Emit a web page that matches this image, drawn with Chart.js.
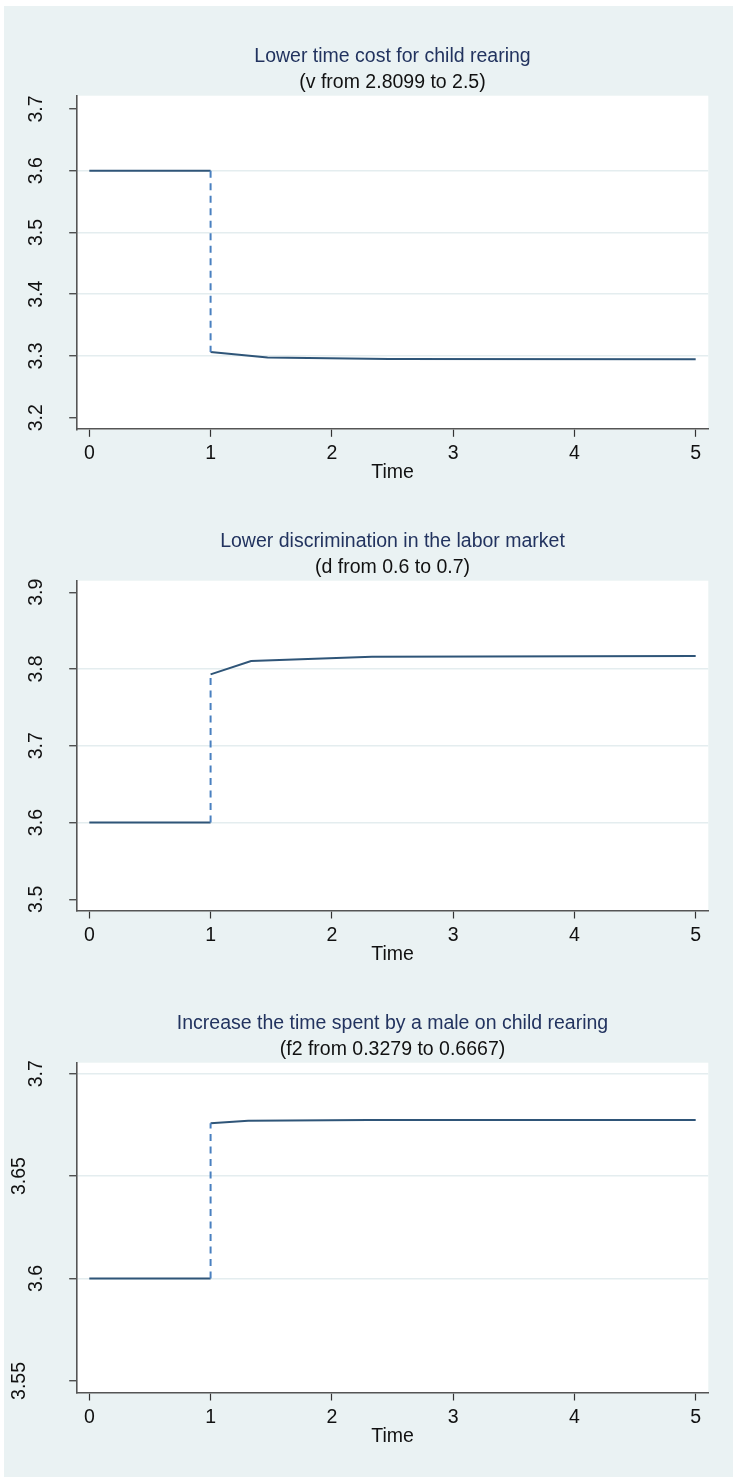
<!DOCTYPE html>
<html><head><meta charset="utf-8">
<script src="https://cdn.jsdelivr.net/npm/chart.js@4.4.1/dist/chart.umd.min.js"></script>
<style>
html,body{margin:0;padding:0;background:#fff;width:733px;height:1477px;overflow:hidden;}
#bg{position:absolute;left:4px;top:6px;width:729px;height:1471px;background:#eaf2f3;}
canvas{position:absolute;left:0;top:0;}
</style></head><body>
<div id="bg"></div>
<canvas id="c1" width="733" height="1477"></canvas>
<canvas id="c2" width="733" height="1477"></canvas>
<canvas id="c3" width="733" height="1477"></canvas>
<script>
// ---------- data ----------
const xTicks = [0, 1, 2, 3, 4, 5];
const xTitle = 'Time';
const timeBefore = [0, 1];

const title1 = 'Lower time cost for child rearing';
const subtitle1 = '(v from 2.8099 to 2.5)';
const yTicks1 = [3.2, 3.3, 3.4, 3.5, 3.6, 3.7];
const yGrid1 = [3.3, 3.4, 3.5, 3.6];
const before1 = [3.6, 3.6];
const timeAfter1 = [1, 1.47, 2.47, 5];
const after1 = [3.3065, 3.2974, 3.2950, 3.2947];

const title2 = 'Lower discrimination in the labor market';
const subtitle2 = '(d from 0.6 to 0.7)';
const yTicks2 = [3.5, 3.6, 3.7, 3.8, 3.9];
const yGrid2 = [3.6, 3.7, 3.8];
const before2 = [3.6, 3.6];
const timeAfter2 = [1, 1.334, 2.33, 5];
const after2 = [3.793, 3.8104, 3.816, 3.817];

const title3 = 'Increase the time spent by a male on child rearing';
const subtitle3 = '(f2 from 0.3279 to 0.6667)';
const yTicks3 = [3.55, 3.6, 3.65, 3.7];
const yGrid3 = [3.6, 3.65, 3.7];
const before3 = [3.6, 3.6];
const timeAfter3 = [1, 1.31, 2.3, 5];
const after3 = [3.6758, 3.6771, 3.6774, 3.6774];

// ---------- styling / layout ----------
const W = 733, H = 1477;
const FONT = '"Liberation Sans", Arial, Helvetica, sans-serif';
const LINE = '#2f5578';
const DASH = '#4a80c0';
const GRID = '#e4edef';
const AXIS = '#555555';
const TICK = '#333333';
const TITLE_COL = '#22335f';
const X_MIN = -0.104, X_MAX = 5.104;
const AREA_LEFT = 76.7, AREA_RIGHT = 708.3;
const YAXIS_W = 10, XAXIS_H = 10;

const panelStyle = [
  {top: 95.7, bottom: 429.3, yMin: 3.1812, yMax: 3.7215},
  {top: 580.7, bottom: 911, yMin: 3.4848, yMax: 3.9151},
  {top: 1062.7, bottom: 1393, yMin: 3.5441, yMax: 3.7054}
];

const textPlugin = {
  id: 'texts',
  beforeDraw(chart) {
    const {ctx, chartArea: a} = chart;
    ctx.save();
    ctx.fillStyle = '#ffffff';
    ctx.fillRect(a.left, a.top, a.right - a.left, a.bottom - a.top);
    ctx.restore();
  },
  afterDraw(chart) {
    const o = chart.options.plugins.texts;
    const {ctx, chartArea: a} = chart;
    const xs = chart.scales.x, ys = chart.scales.y;
    const cx = (a.left + a.right) / 2;
    ctx.save();
    ctx.font = '19.5px ' + FONT;
    ctx.textAlign = 'center';
    ctx.textBaseline = 'alphabetic';
    ctx.fillStyle = TITLE_COL;
    ctx.fillText(o.title, cx, a.top - 33.4);
    ctx.fillStyle = '#111111';
    ctx.fillText(o.subtitle, cx, a.top - 7.4);
    // x tick labels
    ctx.font = '19.5px ' + FONT;
    o.xTicks.forEach(v => {
      ctx.fillText(String(v), xs.getPixelForValue(v), a.bottom + 30);
    });
    ctx.fillText(o.xTitle, cx, a.bottom + 49);
    // y tick labels rotated
    o.yTicks.forEach(v => {
      const s = String(v);
      const py = ys.getPixelForValue(v);
      const bx = a.left - 35 - (s.length > 3 ? 16.7 : 0);
      ctx.save();
      ctx.translate(bx, py);
      ctx.rotate(-Math.PI / 2);
      ctx.textAlign = 'center';
      ctx.textBaseline = 'alphabetic';
      ctx.fillText(s, 0, 0);
      ctx.restore();
    });
    ctx.restore();
  }
};

function pts(t, v) { return t.map((x, i) => ({x: x, y: v[i]})); }

function makeChart(id, st, title, subtitle, yTicks, yGrid, before, timeAfter, after) {
  const jump = [{x: timeBefore[timeBefore.length - 1], y: before[before.length - 1]}, {x: timeAfter[0], y: after[0]}];
  new Chart(document.getElementById(id), {
    type: 'line',
    data: {
      datasets: [
        {data: jump, borderColor: DASH, borderWidth: 2, borderDash: [7, 5.5], pointRadius: 0, fill: false, tension: 0},
        {data: pts(timeBefore, before), borderColor: LINE, borderWidth: 2, pointRadius: 0, fill: false, tension: 0},
        {data: pts(timeAfter, after), borderColor: LINE, borderWidth: 2, pointRadius: 0, fill: false, tension: 0}
      ]
    },
    options: {
      responsive: false,
      animation: false,
      events: [],
      layout: {padding: {left: AREA_LEFT - YAXIS_W, right: W - AREA_RIGHT, top: st.top, bottom: H - st.bottom - XAXIS_H}},
      plugins: {
        legend: {display: false},
        tooltip: {enabled: false},
        texts: {title: title, subtitle: subtitle, yTicks: yTicks, xTicks: xTicks, xTitle: xTitle}
      },
      scales: {
        x: {
          type: 'linear', min: X_MIN, max: X_MAX,
          afterBuildTicks: s => { s.ticks = xTicks.map(v => ({value: v})); },
          afterFit: s => { s.height = XAXIS_H; },
          ticks: {display: false},
          grid: {display: true, drawOnChartArea: false, drawTicks: true, tickLength: 7.5, tickColor: TICK, tickWidth: 1.2},
          border: {display: true, color: AXIS, width: 1.6}
        },
        y: {
          type: 'linear', min: st.yMin, max: st.yMax,
          afterBuildTicks: s => { s.ticks = yTicks.map(v => ({value: v})); },
          afterFit: s => { s.width = YAXIS_W; },
          ticks: {display: false},
          grid: {
            display: true, drawOnChartArea: true, drawTicks: true,
            color: c => (c.tick && yGrid.includes(c.tick.value)) ? GRID : 'rgba(0,0,0,0)',
            lineWidth: 1.5, tickLength: 7.5, tickColor: TICK, tickWidth: 1.2
          },
          border: {display: true, color: AXIS, width: 1.6}
        }
      }
    },
    plugins: [textPlugin]
  });
}

makeChart('c1', panelStyle[0], title1, subtitle1, yTicks1, yGrid1, before1, timeAfter1, after1);
makeChart('c2', panelStyle[1], title2, subtitle2, yTicks2, yGrid2, before2, timeAfter2, after2);
makeChart('c3', panelStyle[2], title3, subtitle3, yTicks3, yGrid3, before3, timeAfter3, after3);
</script>
</body></html>
